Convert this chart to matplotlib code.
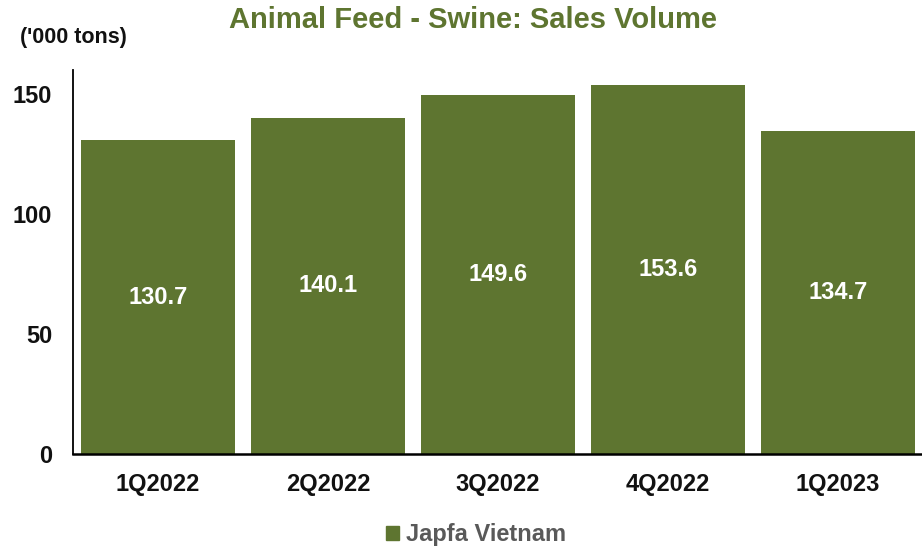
import matplotlib.pyplot as plt
import matplotlib.patches as mpatches

# data
quarters = ['1Q2022', '2Q2022', '3Q2022', '4Q2022', '1Q2023']
volume = [130.7, 140.1, 149.6, 153.6, 134.7]

GREEN = '#5E7530'
plt.rcParams['font.family'] = ['Liberation Sans', 'DejaVu Sans']

fig = plt.figure(figsize=(9.22, 5.49), dpi=100)
ax = fig.add_axes([73/922, 1-454/549, 850/922, 384/549])

x = range(len(quarters))
bars = ax.bar(x, volume, width=0.906, color=GREEN, zorder=2)
for b, v in zip(bars, volume):
    ax.text(b.get_x()+b.get_width()/2, v/2, f'{v:.1f}', ha='center', va='center',
            color='white', fontsize=17, fontweight='bold')

ax.set_xlim(-0.5, len(quarters)-0.5)
ax.set_ylim(0, 160)
ax.set_yticks([0, 50, 100, 150])
ax.set_xticks(list(x))
ax.set_xticklabels(quarters)
ax.tick_params(length=0, labelsize=17, colors='#111111')
ax.tick_params(axis='x', pad=14)
ax.tick_params(axis='y', pad=15)
for lbl in ax.get_xticklabels() + ax.get_yticklabels():
    lbl.set_fontweight('bold')
for s in ['top', 'right']:
    ax.spines[s].set_visible(False)
ax.spines['left'].set_linewidth(1.3)
ax.spines['bottom'].set_linewidth(1.8)

fig.text(473/922, 1-20/549, 'Animal Feed - Swine: Sales Volume', ha='center', va='center',
         fontsize=21, fontweight='bold', color=GREEN)
fig.text(20/922, 1-38/549, "('000 tons)", ha='left', va='center',
         fontsize=15.5, fontweight='bold', color='#111111')

handle = mpatches.Patch(color=GREEN, label='Japfa Vietnam')
leg = fig.legend(handles=[handle], loc='center', bbox_to_anchor=(476/922, 1-535/549),
                 frameon=False, fontsize=17, handlelength=0.55, handleheight=0.55,
                 handletextpad=0.3)
for t in leg.get_texts():
    t.set_color('#595959')
    t.set_fontweight('bold')

fig.savefig('out.png', dpi=100)
